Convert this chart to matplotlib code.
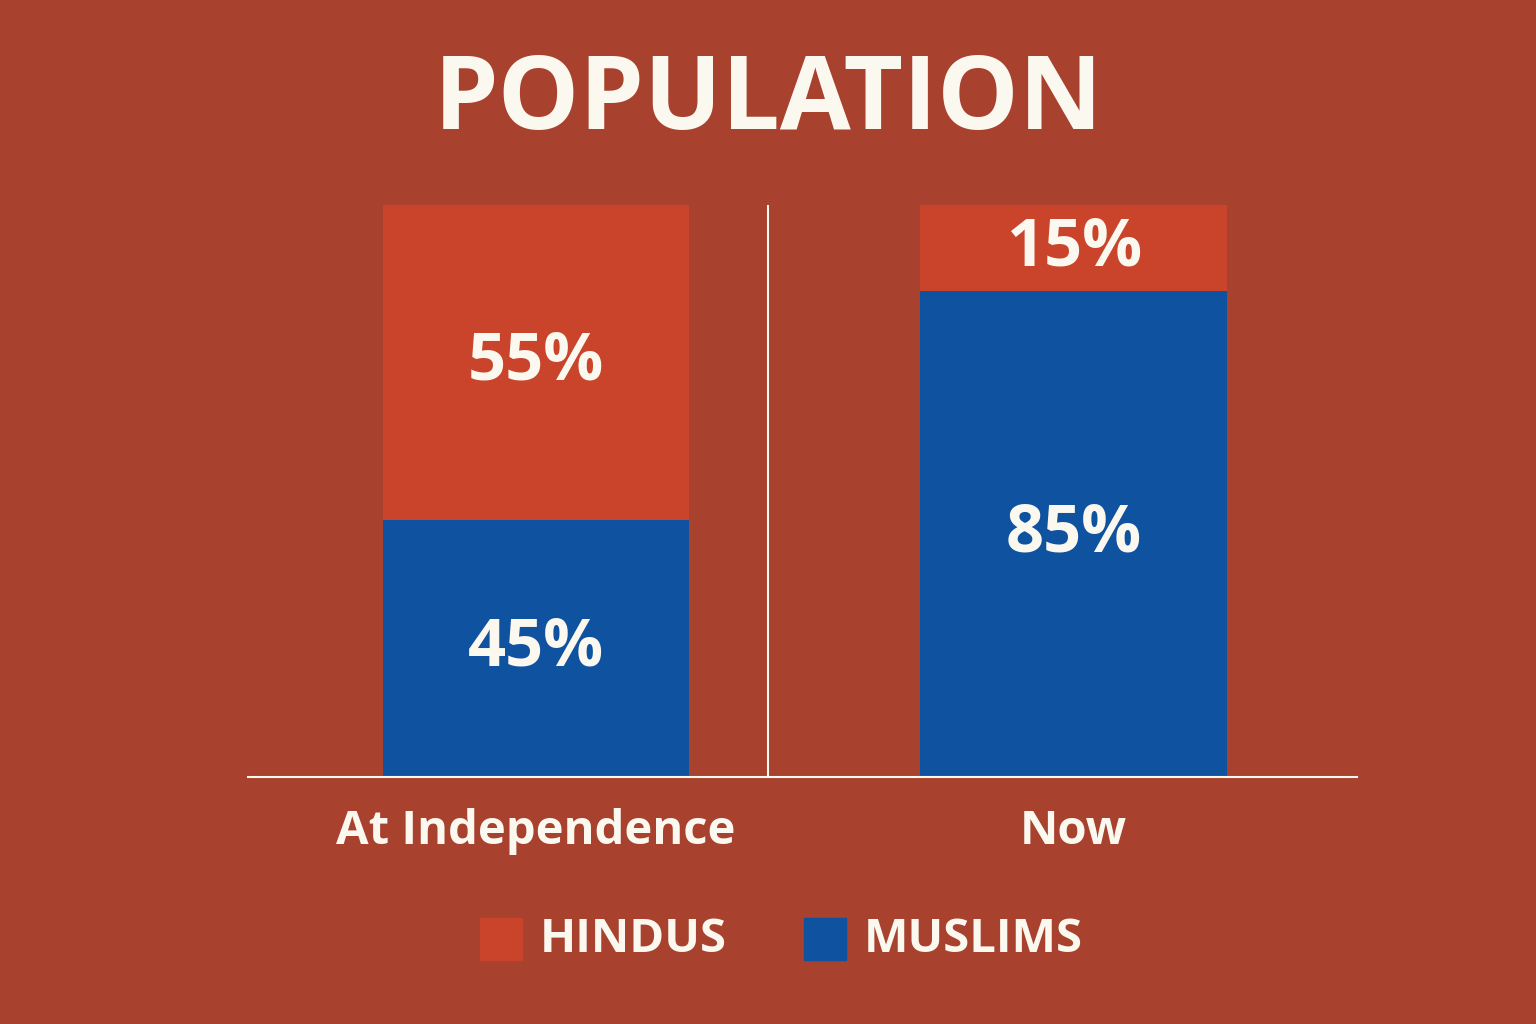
import matplotlib
matplotlib.use("Agg")
import matplotlib.pyplot as plt
from matplotlib.patches import Rectangle

categories = ["At Independence", "Now"]
hindus = [55, 15]
muslims = [45, 85]
title = "POPULATION"

BG = "#A8412D"
RED = "#C9442A"
BLUE = "#0F52A0"
WHITE = "#FBF8F0"
plt.rcParams['font.family'] = ['Open Sans', 'DejaVu Sans']

fig = plt.figure(figsize=(15.36, 10.24), dpi=100, facecolor=BG)
ax = fig.add_axes([248/1536, 1-777/1024, 1109/1536, 572/1024])
ax.set_facecolor(BG)
x = [0, 1]
ax.bar(x, muslims, width=0.57, color=BLUE)
ax.bar(x, hindus, bottom=muslims, width=0.57, color=RED)
ax.set_xlim(-0.536, 1.527)
ax.set_ylim(0, 100)
for i in range(2):
    ax.text(x[i], muslims[i]/2, f"{muslims[i]}%", ha='center', va='center', color=WHITE, fontsize=48, fontweight='bold')
    ax.text(x[i], muslims[i] + hindus[i]/2, f"{hindus[i]}%", ha='center', va='center', color=WHITE, fontsize=48, fontweight='bold')
ax.axvline(0.4316, color=WHITE, lw=1.5)
for s in ['top', 'right', 'left']:
    ax.spines[s].set_visible(False)
ax.spines['bottom'].set_color(WHITE)
ax.spines['bottom'].set_linewidth(1.5)
ax.set_yticks([])
ax.set_xticks(x)
ax.set_xticklabels(categories, color=WHITE, fontsize=34, fontweight='bold')
ax.tick_params(axis='x', length=0, pad=22)

fig.text(0.5, 1-103/1024, title, ha='center', va='center', color=WHITE, fontsize=74, fontweight='bold')

# legend
for (x0, col, lab) in [(480, RED, "HINDUS"), (804, BLUE, "MUSLIMS")]:
    fig.patches.append(Rectangle((x0/1536, 1-960/1024), 42/1536, 42/1024, transform=fig.transFigure, color=col))
    fig.text((x0+60)/1536, 1-940/1024, lab, ha='left', va='center', color=WHITE, fontsize=34, fontweight='bold')

fig.savefig("out.png", dpi=100, facecolor=BG)
